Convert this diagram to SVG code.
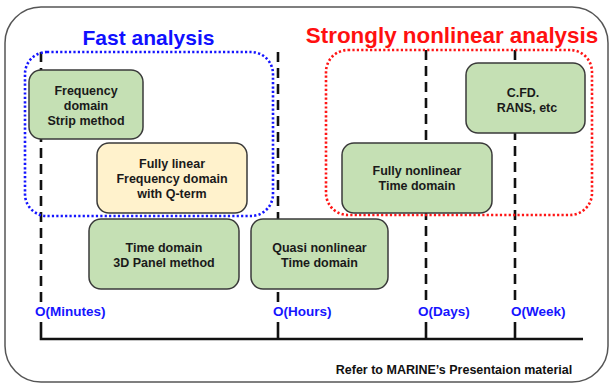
<svg xmlns="http://www.w3.org/2000/svg" width="609" height="383" viewBox="0 0 609 383">
<style>
text{font-family:"Liberation Sans",Arial,sans-serif;font-weight:bold}
.box{fill:#c5e0b4;stroke:#3a3a3a;stroke-width:1.5}
.yel{fill:#fff2cc;stroke:#3a3a3a;stroke-width:1.5}
.bt{font-size:12.5px;fill:#1a1a1a;text-anchor:middle}
.lbl{font-size:13.5px;fill:#1515ff}
.dash{stroke:#111;stroke-width:2.6;stroke-dasharray:10 6;fill:none}
.solid{stroke:#111;stroke-width:2.6;fill:none}
</style>
<rect x="5" y="7" width="603" height="375" rx="36" fill="#fff" stroke="#555" stroke-width="1.5"/>
<g id="titles">
<text x="148.5" y="45" font-size="21" fill="#1010ff" text-anchor="middle">Fast analysis</text>
<text x="452" y="43" font-size="22.4" fill="#ff1010" text-anchor="middle">Strongly nonlinear analysis</text>
</g>
<g id="connectors">
<path class="dash" d="M41 52V302M278 52V302M426 50V302M515 50V302"/>
<path class="solid" d="M41 322V339M278 322V339M426 322V339M515 322V339M39.7 339H583"/>
</g>
<g id="regions">
<rect x="25" y="52" width="248" height="164" rx="22" fill="none" stroke="#1515ff" stroke-width="2.6" stroke-dasharray="2.2 2.2"/>
<rect x="326" y="50" width="266" height="165" rx="22" fill="none" stroke="#ff1515" stroke-width="2.6" stroke-dasharray="2.2 2.2"/>
</g>
<g id="n-freq">
<rect class="box" x="29" y="70" width="114" height="69" rx="12"/>
<text class="bt" x="86" y="94.5">Frequency</text>
<text class="bt" x="86" y="109.5">domain</text>
<text class="bt" x="86" y="124.5">Strip method</text>
</g>
<g id="n-linear">
<rect class="yel" x="97" y="143" width="150" height="70" rx="12"/>
<text class="bt" x="172" y="167.5">Fully linear</text>
<text class="bt" x="172" y="182.5">Frequency domain</text>
<text class="bt" x="172" y="197.5">with Q-term</text>
</g>
<g id="n-panel">
<rect class="box" x="89" y="219" width="150" height="70" rx="12"/>
<text class="bt" x="164" y="251.5">Time domain</text>
<text class="bt" x="164" y="266.5">3D Panel method</text>
</g>
<g id="n-quasi">
<rect class="box" x="251" y="219" width="137" height="70" rx="12"/>
<text class="bt" x="319.5" y="251.5">Quasi nonlinear</text>
<text class="bt" x="319.5" y="266.5">Time domain</text>
</g>
<g id="n-fullnl">
<rect class="box" x="342" y="143" width="150" height="70" rx="12"/>
<text class="bt" x="417" y="175">Fully nonlinear</text>
<text class="bt" x="417" y="189.5">Time domain</text>
</g>
<g id="n-cfd">
<rect class="box" x="466" y="63" width="119" height="70" rx="12"/>
<text class="bt" x="523" y="96.5">C.FD.</text>
<text class="bt" x="527" y="112">RANS, etc</text>
</g>
<g id="labels">
<text class="lbl" x="35" y="316">O(Minutes)</text>
<text class="lbl" x="273" y="316">O(Hours)</text>
<text class="lbl" x="418" y="316">O(Days)</text>
<text class="lbl" x="511" y="316">O(Week)</text>
</g>
<text x="454" y="374" font-size="12.5" fill="#111" text-anchor="middle">Refer to MARINE’s Presentaion material</text>
</svg>
